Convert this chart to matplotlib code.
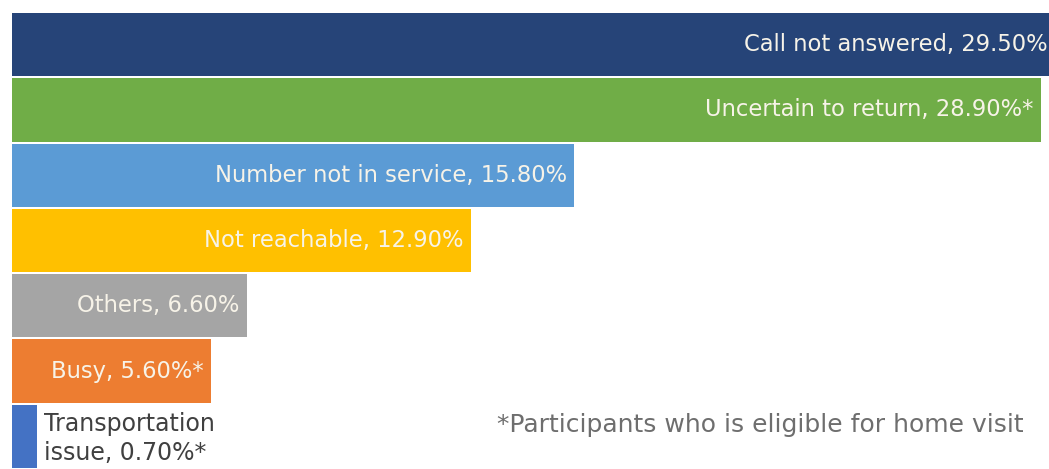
import matplotlib.pyplot as plt

# reasons for not returning, top to bottom
labels = ['Call not answered', 'Uncertain to return', 'Number not in service',
          'Not reachable', 'Others', 'Busy', 'Transportation\nissue']
values = [29.5, 28.9, 15.8, 12.9, 6.6, 5.6, 0.7]
stars = ['', '*', '', '', '', '*', '*']
colors = ['#264478', '#70AD47', '#5B9BD5', '#FFC000', '#A5A5A5', '#ED7D31', '#4472C4']

plt.rcParams['font.family'] = ['DejaVu Sans']

fig = plt.figure(figsize=(10.49, 4.69), dpi=100)
ax = fig.add_axes([12 / 1049, 0, 1 - 12 / 1049, 1 - 13 / 469])

pos = list(range(len(values)))
ax.barh(pos, values, height=0.97, color=colors)
xmax = (1049 - 12) / 35.6
ax.set_xlim(0, xmax)
ax.set_ylim(6.5, -0.485)
ax.axis('off')

for i, (lab, v, s) in enumerate(zip(labels, values, stars)):
    text = '%s, %.2f%%%s' % (lab, v, s)
    if v > 2:
        x = xmax - 0.05 if v > xmax else v - 0.22
        ax.text(x, i, text, ha='right', va='center',
                color='#F7F3E8', fontsize=16.3)
    else:
        ax.text(v + 0.2, i + 0.03, text, ha='left', va='center',
                color='#404040', fontsize=17, linespacing=1.25)

fig.text(497 / 1049, 1 - 425 / 469, '*Participants who is eligible for home visit',
         ha='left', va='center', color='#6E6E6E', fontsize=18)

fig.savefig('out.png', dpi=100)
